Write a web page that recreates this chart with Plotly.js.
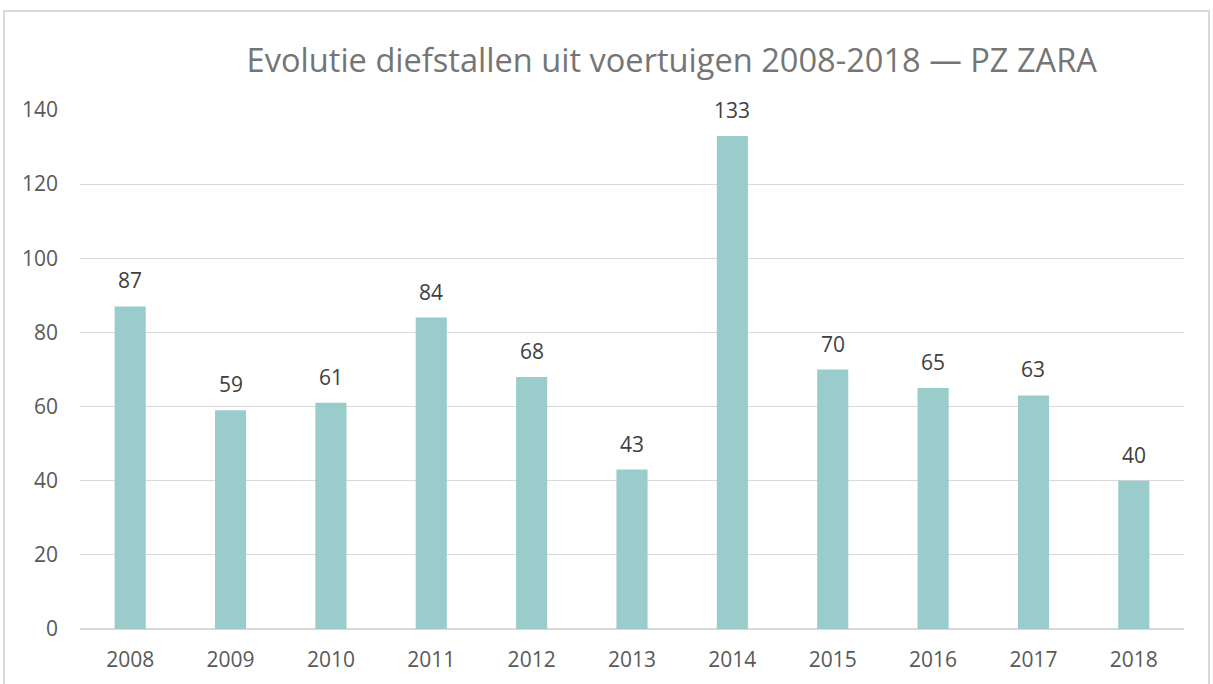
<!DOCTYPE html>
<html>
<head>
<meta charset="utf-8">
<script src="https://cdn.plot.ly/plotly-3.0.1.min.js"></script>
<style>
  html, body { margin: 0; padding: 0; background: #ffffff; }
  #wrap { position: relative; width: 1213px; height: 684px; overflow: hidden; }
  #frame { position: absolute; left: 3px; top: 10px; width: 1207px; height: 690px; border: 2px solid #d9d9d9; box-sizing: border-box; pointer-events: none; }
  #chart { position: absolute; left: 0; top: 0; width: 1213px; height: 684px; }
</style>
</head>
<body>
<div id="wrap">
  <div id="chart"></div>
  <div id="frame"></div>
</div>
<script>
const years = ["2008", "2009", "2010", "2011", "2012", "2013", "2014", "2015", "2016", "2017", "2018"];
const thefts = [87, 59, 61, 84, 68, 43, 133, 70, 65, 63, 40];
const titleText = "Evolutie diefstallen uit voertuigen 2008-2018 — PZ ZARA";

const FONT = "Open Sans, Liberation Sans, sans-serif";

const trace = {
  type: "bar",
  x: years,
  y: thefts,
  width: 0.31,
  marker: { color: "#9acccc" },
  hoverinfo: "x+y"
};

const annotations = years.map((yr, i) => ({
  x: i,
  y: thefts[i],
  xref: "x",
  yref: "y",
  text: String(thefts[i]),
  showarrow: false,
  yanchor: "bottom",
  yshift: 10,
  font: { family: FONT, size: 21, color: "#404040" }
}));

const layout = {
  width: 1213,
  height: 684,
  margin: { l: 80, r: 29, t: 110, b: 55 },
  paper_bgcolor: "#ffffff",
  plot_bgcolor: "#ffffff",
  showlegend: false,
  title: {
    text: titleText,
    font: { family: FONT, size: 32.6, color: "#757575" },
    x: 0.536,
    xref: "paper",
    xanchor: "center",
    y: 0.912,
    yref: "container",
    yanchor: "middle"
  },
  xaxis: {
    type: "category",
    categoryorder: "array",
    categoryarray: years,
    range: [-0.5, years.length - 0.5],
    autorange: false,
    showgrid: false,
    showline: false,
    zeroline: false,
    ticks: "",
    ticklabelstandoff: 16,
    tickfont: { family: FONT, size: 21, color: "#595959" }
  },
  yaxis: {
    range: [0, 140],
    autorange: false,
    tickvals: [0, 20, 40, 60, 80, 100, 120, 140],
    showgrid: true,
    gridcolor: "#d9d9d9",
    gridwidth: 1,
    zeroline: true,
    zerolinecolor: "#d9d9d9",
    zerolinewidth: 2,
    showline: false,
    ticks: "",
    ticklabelstandoff: 21,
    tickfont: { family: FONT, size: 21, color: "#595959" }
  },
  annotations: annotations
};

Plotly.newPlot("chart", [trace], layout, { displayModeBar: false, staticPlot: true });
</script>
</body>
</html>
